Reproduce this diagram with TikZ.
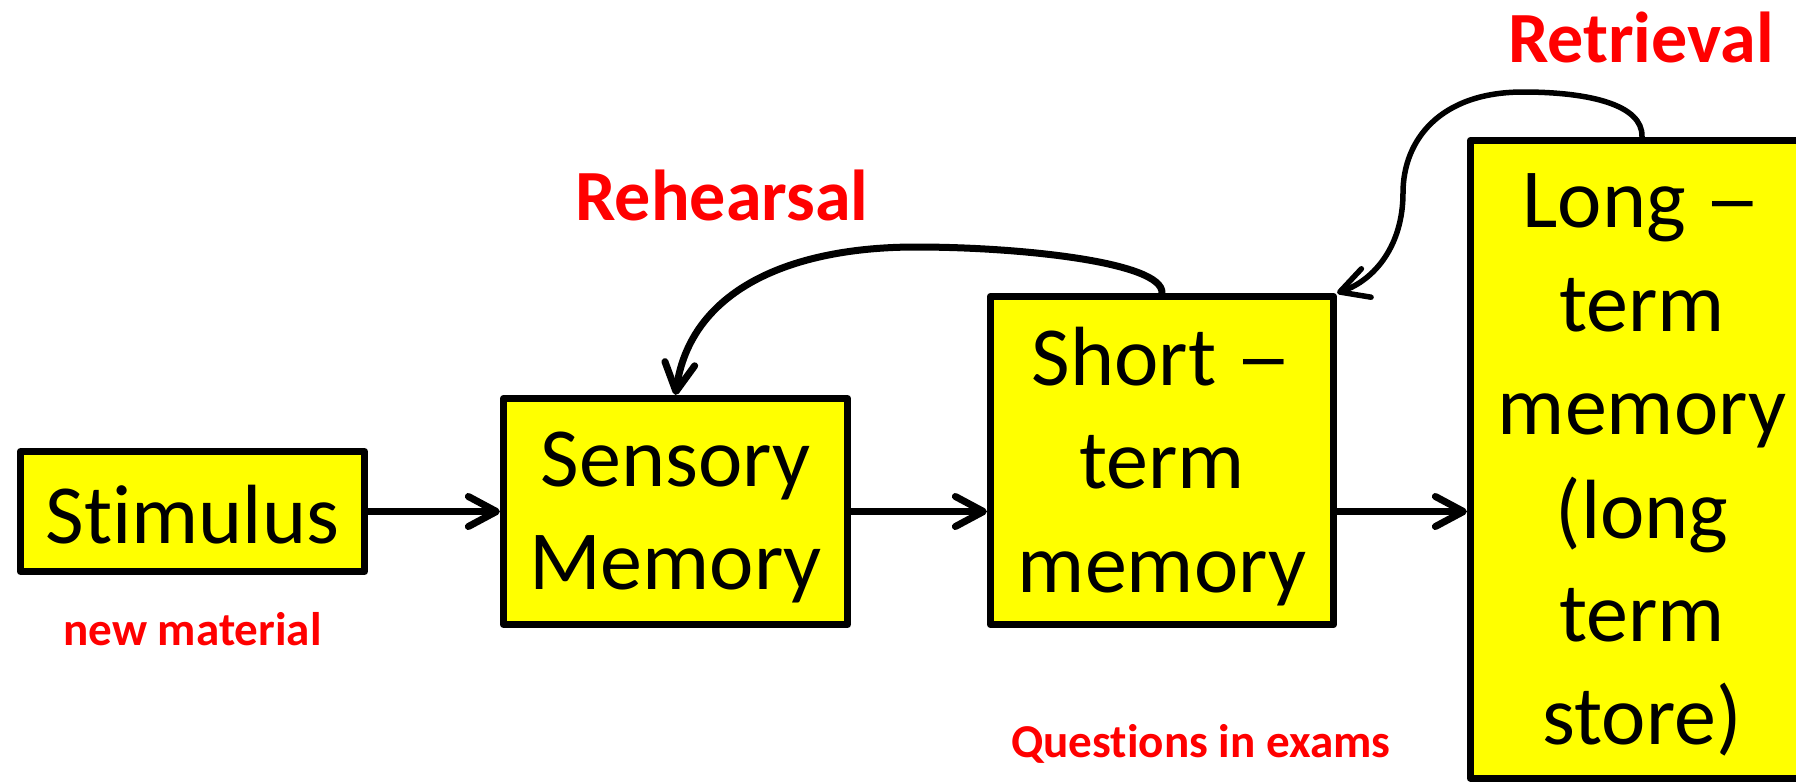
\documentclass[tikz,border=0pt]{standalone}
\usepackage{fontspec}
\usepackage{graphicx}
\setmainfont{Carlito}[Ligatures=NoCommon]
\usetikzlibrary{arrows.meta}
\definecolor{boxyellow}{RGB}{255,255,0}
\definecolor{labelred}{RGB}{255,0,0}
\newcommand{\wdash}{\scalebox{1.35}[1]{–}}
\begin{document}
\begin{tikzpicture}[x=0.01cm,y=-0.01cm,
  stage/.style={draw=black, fill=boxyellow, line width=0.07cm, line join=round, inner sep=0pt, rectangle},
  stagetext/.style={align=center, font=\fontsize{23.9}{29.4}\selectfont, inner sep=0pt, yshift=-0.06cm},
  flow/.style={line width=0.07cm, line cap=round, -{Straight Barb[length=0.28cm,width=0.30cm,round]}},
  note/.style={text=labelred, font=\bfseries\fontsize{20.5}{24}\selectfont, inner sep=0pt, anchor=base},
  smallnote/.style={text=labelred, font=\bfseries\fontsize{13.4}{16}\selectfont, inner sep=0pt, anchor=base}]
\useasboundingbox (0,0) rectangle (1796,781);
\clip (0,0) rectangle (1796,781);

% memory stages
\node[stage, minimum width=3.44cm, minimum height=1.20cm] (stim) at (192.5,511.5) {};
\node[stage, minimum width=3.44cm, minimum height=2.26cm] (sens) at (675.5,511.5) {};
\node[stage, minimum width=3.43cm, minimum height=3.28cm] (stm) at (1162,460.5) {};
\node[stage, minimum width=3.43cm, minimum height=6.375cm] (ltm) at (1642,459.25) {};

\node[stagetext, yshift=0.03cm] (stim-t) at (stim.center) {Stimulus};
\node[stagetext] (sens-t) at (sens.center) {Sensory\\Memory};
\node[stagetext] (stm-t) at (stm.center) {Short \wdash\\term\\memory};
\node[stagetext] (ltm-t) at (ltm.center) {Long \wdash\\term\\memory\\(long\\term\\store)};

% forward flow
\draw[flow] (stim.east) -- (sens.west);
\draw[flow] (sens.east) -- (stm.west |- sens.east);
\draw[flow] (stm.east |- sens.east) -- (ltm.west |- sens.east);

% rehearsal loop
\draw[flow] (stm.north) .. controls (1163,262) and (1020,247) .. (916,247)
  .. controls (790,247) and (690,290) .. (sens.north);

% retrieval loop
\draw[flow, line width=0.055cm] (ltm.north) .. controls (1643,105) and (1590,92) .. (1523,92)
  .. controls (1440,92) and (1403,140) .. (1403,193)
  .. controls (1403,245) and (1375,280) .. (stm.north east);

% labels
\node[note] (rehearsal) at (722,220) {Rehearsal};
\node[note] (retrieval) at (1641,62) {Retrieval};
\node[smallnote] (newmat) at (192.5,645) {new material};
\node[smallnote] (exams) at (1201,757) {Questions in exams};
\end{tikzpicture}
\end{document}
